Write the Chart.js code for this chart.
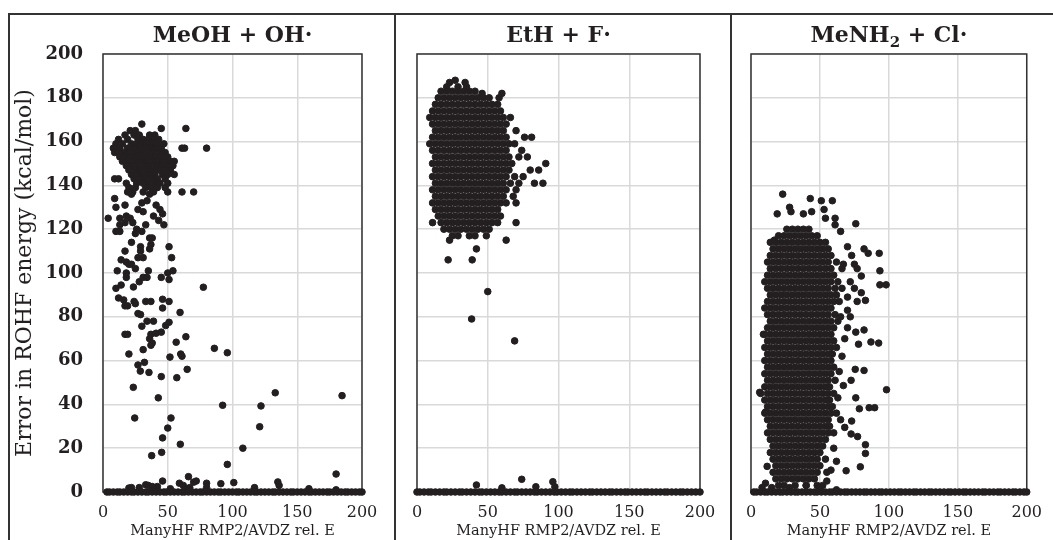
<!DOCTYPE html>
<html>
<head>
<meta charset="utf-8">
<script src="https://cdn.jsdelivr.net/npm/chart.js@4.4.1/dist/chart.umd.min.js"></script>
<style>
  body { margin: 0; background: #fff; }
  #wrap { position: relative; width: 1053px; height: 540px; overflow: hidden; }
  .frame { position: absolute; left: 8px; top: 13px; width: 1070px; height: 560px; border: 2px solid #333; box-sizing: border-box; }
  .sep { position: absolute; top: 13px; width: 2px; height: 527px; background: #333; }
  canvas { position: absolute; top: 15px; }
</style>
</head>
<body>
<div id="wrap">
  <div class="frame"></div>
  <div class="sep" style="left:394px"></div>
  <div class="sep" style="left:730px"></div>
  <canvas id="c1" width="383" height="525" style="left:10px"></canvas>
  <canvas id="c2" width="332" height="525" style="left:397px"></canvas>
  <canvas id="c3" width="320" height="525" style="left:733px"></canvas>
</div>
<script>
const xTickVals = [0, 50, 100, 150, 200];
const yTickVals = [0, 20, 40, 60, 80, 100, 120, 140, 160, 180, 200];

// ---- MeOH + OH· ----
// dense top cluster, one row per y: [y, [x...]]
const meohRows = [
  [168, [30]],
  [166, [45, 64]],
  [165, [21, 25]],
  [163, [17, 24, 28, 36, 40]],
  [161, [12, 19, 27, 31, 35, 39, 43]],
  [159, [10, 15, 22, 26, 30, 34, 38, 42, 47]],
  [157, [8, 13, 19, 24, 28, 33, 37, 41, 45, 61, 63, 80]],
  [155, [9, 11, 16, 21, 26, 30, 35, 39, 44, 48]],
  [153, [13, 18, 23, 28, 32, 37, 41, 46, 50]],
  [151, [15, 20, 25, 30, 34, 39, 43, 47, 52, 55]],
  [149, [18, 22, 27, 32, 36, 41, 45, 49, 54]],
  [147, [20, 25, 29, 34, 38, 43, 48, 52]],
  [145, [22, 27, 31, 36, 40, 46, 50, 55]],
  [143, [9, 12, 24, 29, 33, 38, 42, 48]],
  [141, [18, 26, 31, 35, 40, 44, 50]],
  [139, [20, 25, 33, 37, 42, 48]],
  [137, [19, 23, 31, 39, 50, 61, 70]],
  [136, [22, 36]]
];
const meohPts = [
  [9, 134], [10, 130], [17, 131], [13, 125], [13, 122], [18, 126], [21, 125], [4, 125],
  [10, 119], [13, 119], [17, 123], [23, 123], [26, 120], [25, 118], [30, 119], [31, 128],
  [30, 132], [34, 133], [39, 126], [41, 131], [44, 129], [46, 127], [43, 124], [47, 122],
  [33, 122], [27, 129], [36, 116], [38, 116], [37, 113], [36, 111], [29, 112], [29, 110],
  [22, 114], [17, 110], [14, 106], [18, 105], [20, 104], [22, 104], [27, 107], [31, 107],
  [51, 112], [53, 107], [11, 101], [25, 102], [35, 101], [54, 101], [50, 100],
  [10, 93], [77.5, 93.5], [86, 65.6], [96, 63.6], [133, 45.3], [184.6, 44], [92.4, 39.6],
  [122, 39.3], [121, 29.8], [108, 20], [96, 12.6], [180, 8.2], [42.7, 43], [24.5, 33.8],
  [52.5, 33.8], [50, 29.2], [46, 24.7], [59.7, 21.8], [45.3, 18.1], [37.6, 16.6], [23.4, 47.8],
  [45, 52.7], [57, 52.2], [65, 56], [35.5, 54.6], [28.8, 55.2], [32, 59.2], [27, 58],
  [51.7, 61.6], [60, 63], [61, 62], [56.5, 68.4], [64, 70.9], [20, 63], [31, 65], [17, 72],
  [19, 72], [37, 67], [38, 68], [37, 72], [41, 72.5], [45, 73], [36, 70], [48.4, 76],
  [51, 77.5], [30, 75.7], [34, 78], [39, 78], [59.5, 82], [27, 81.5], [29, 81], [17, 85],
  [19, 85], [24, 87], [25, 86], [33, 87], [37, 87], [46, 88], [46, 84], [51, 87],
  [16, 87.7], [12, 88.6], [14, 94.5], [18, 98], [18, 100], [23.5, 93.6], [28, 96], [31, 98],
  [34, 98], [45, 98], [51, 97],
  [59, 4], [62, 3], [66, 7], [70, 4.5], [72, 5], [80, 4], [80, 2], [91, 3.8], [101, 4.3],
  [117, 2], [135, 4.6], [136, 3], [159, 1.5], [46, 5], [42, 2.5], [33, 3.3], [35, 3],
  [20, 1.8], [22, 2], [65, 1.5], [67, 2], [28, 2], [38, 2.5], [52, 1.5], [180, 1]
];
const meohZeroX = [3, 5, 8, 11, 13, 16, 19, 22, 24, 27, 30, 33, 35, 38, 41, 44, 47, 49, 52, 55,
  58, 61, 63, 66, 69, 72, 75, 77, 80, 83, 86, 89, 91, 94, 97, 100, 103, 105, 108, 111, 114,
  117, 119, 122, 125, 128, 131, 133, 136, 139, 142, 145, 147, 150, 153, 156, 159, 161, 164,
  167, 170, 173, 175, 178, 181, 184, 187, 189, 192, 195, 198, 200];

// ---- EtH + F· ----
const ethRows = [
  [188, [27]],
  [187, [23, 34]],
  [185, [21, 29, 35]],
  [183, [17, 21, 25, 29, 33, 37, 41]],
  [182, [46, 60]],
  [180, [15, 19, 23, 27, 31, 35, 39, 43, 47, 51, 58]],
  [177, [13, 17, 21, 25, 29, 33, 37, 41, 45, 49, 53, 57]],
  [174, [11, 15, 19, 23, 27, 31, 35, 39, 43, 47, 51, 55, 59]],
  [171, [9, 13, 17, 21, 25, 29, 33, 37, 41, 45, 49, 53, 57, 61, 66]],
  [168, [11, 15, 19, 23, 27, 31, 35, 39, 43, 47, 51, 55, 59, 63]],
  [165, [13, 17, 21, 25, 29, 33, 37, 41, 45, 49, 53, 57, 61, 70]],
  [162, [11, 15, 19, 23, 27, 31, 35, 39, 43, 47, 51, 55, 59, 63, 76, 81]],
  [159, [9, 13, 17, 21, 25, 29, 33, 37, 41, 45, 49, 53, 57, 61, 65, 69]],
  [156, [11, 15, 19, 23, 27, 31, 35, 39, 43, 47, 51, 55, 59, 63, 74]],
  [153, [13, 17, 21, 25, 29, 33, 37, 41, 45, 49, 53, 57, 61, 65, 72, 78]],
  [150, [11, 15, 19, 23, 27, 31, 35, 39, 43, 47, 51, 55, 59, 63, 67, 91]],
  [147, [13, 17, 21, 25, 29, 33, 37, 41, 45, 49, 53, 57, 61, 65, 80, 86]],
  [144, [11, 15, 19, 23, 27, 31, 35, 39, 43, 47, 51, 55, 59, 63, 69, 75]],
  [141, [13, 17, 21, 25, 29, 33, 37, 41, 45, 49, 53, 57, 61, 66, 72, 83, 89]],
  [138, [11, 15, 19, 23, 27, 31, 35, 39, 43, 47, 51, 55, 59, 63, 70]],
  [135, [13, 17, 21, 25, 29, 33, 37, 41, 45, 49, 53, 57, 61, 68]],
  [132, [11, 15, 19, 23, 27, 31, 35, 39, 43, 47, 51, 55, 59, 63, 70]],
  [129, [13, 17, 21, 25, 29, 33, 37, 41, 45, 49, 53, 57]],
  [126, [15, 19, 23, 27, 31, 35, 39, 43, 47, 51, 55, 59]],
  [123, [11, 17, 21, 25, 29, 33, 37, 41, 45, 49, 53, 57, 70]],
  [120, [19, 23, 27, 31, 35, 39, 43, 47, 51]],
  [117, [25, 29, 37, 41, 49]],
  [115, [23, 63]],
  [111, [42]],
  [106, [22, 39]]
];
const ethPts = [
  [50, 91.5], [38.6, 79], [69, 69],
  [42, 3.2], [60, 1.9], [74, 5.8], [84, 2.4], [96, 4.7], [97.4, 2.4]
];
const ethZeroX = [0, 2, 5, 8, 10, 13, 16, 19, 21, 24, 27, 30, 32, 35, 38, 41, 44, 46, 49, 52,
  55, 58, 60, 63, 66, 69, 71, 74, 77, 80, 83, 85, 88, 91, 94, 97, 99, 102, 105, 108, 110,
  113, 116, 119, 122, 124, 127, 130, 133, 136, 138, 141, 144, 147, 149, 152, 155, 158, 161,
  163, 166, 169, 172, 175, 177, 180, 183, 186, 188, 191, 194, 197, 200];

// ---- MeNH2 + Cl· ----
const menhRows = [
  [120, [26, 30, 34, 38, 42]],
  [117, [20, 24, 28, 32, 36, 40, 44, 48]],
  [114, [14, 18, 22, 26, 30, 34, 38, 42, 46, 50, 54]],
  [111, [16, 20, 24, 28, 32, 36, 40, 44, 48, 52, 56]],
  [108, [14, 18, 22, 26, 30, 34, 38, 42, 46, 50, 54, 58]],
  [105, [12, 16, 20, 24, 28, 32, 36, 40, 44, 48, 52, 56, 62]],
  [102, [14, 18, 22, 26, 30, 34, 38, 42, 46, 50, 54, 58, 66]],
  [99, [12, 16, 20, 24, 28, 32, 36, 40, 44, 48, 52, 56, 60]],
  [96, [10, 14, 18, 22, 26, 30, 34, 38, 42, 46, 50, 54, 58, 63]],
  [93, [12, 16, 20, 24, 28, 32, 36, 40, 44, 48, 52, 56, 61, 66]],
  [90, [14, 18, 22, 26, 30, 34, 38, 42, 46, 50, 54, 58, 62]],
  [87, [12, 16, 20, 24, 28, 32, 36, 40, 44, 48, 52, 56, 60, 64]],
  [84, [10, 14, 18, 22, 26, 30, 34, 38, 42, 46, 50, 54, 58]],
  [81, [12, 16, 20, 24, 28, 32, 36, 40, 44, 48, 52, 56, 61]],
  [78, [14, 18, 22, 26, 30, 34, 38, 42, 46, 50, 54, 58, 63]],
  [75, [12, 16, 20, 24, 28, 32, 36, 40, 44, 48, 52, 56, 60]],
  [72, [10, 14, 18, 22, 26, 30, 34, 38, 42, 46, 50, 54, 58]],
  [69, [12, 16, 20, 24, 28, 32, 36, 40, 44, 48, 52, 56, 60]],
  [66, [10, 14, 18, 22, 26, 30, 34, 38, 42, 46, 50, 54, 58, 62]],
  [63, [12, 16, 20, 24, 28, 32, 36, 40, 44, 48, 52, 56, 59]],
  [60, [10, 14, 18, 22, 26, 30, 34, 38, 42, 46, 50, 54, 58]],
  [57, [12, 16, 20, 24, 28, 32, 36, 40, 44, 48, 52, 56, 60]],
  [54, [10, 14, 18, 22, 26, 30, 34, 38, 42, 46, 50, 54, 58]],
  [51, [12, 16, 20, 24, 28, 32, 36, 40, 44, 48, 52, 56, 61]],
  [48, [10, 14, 18, 22, 26, 30, 34, 38, 42, 46, 50, 54, 57]],
  [45, [7, 12, 16, 20, 24, 28, 32, 36, 40, 44, 48, 52, 56, 60]],
  [42, [10, 14, 18, 22, 26, 30, 34, 38, 42, 46, 50, 54, 57]],
  [39, [12, 16, 20, 24, 28, 32, 36, 40, 44, 48, 52, 56, 59]],
  [36, [10, 14, 18, 22, 26, 30, 34, 38, 42, 46, 50, 54, 58, 62]],
  [33, [12, 16, 20, 24, 28, 32, 36, 40, 44, 48, 52, 56]],
  [30, [14, 18, 22, 26, 30, 34, 38, 42, 46, 50, 54, 57]],
  [27, [12, 16, 20, 24, 28, 32, 36, 40, 44, 48, 52, 56, 60]],
  [24, [14, 18, 22, 26, 30, 34, 38, 42, 46, 50, 54]],
  [21, [16, 20, 24, 28, 32, 36, 40, 44, 48, 52]],
  [18, [14, 18, 22, 26, 30, 34, 38, 42, 46, 50]],
  [15, [16, 20, 24, 28, 32, 36, 40, 44, 48, 54]],
  [12, [18, 22, 26, 30, 34, 38, 42, 46, 50]],
  [9, [16, 20, 24, 28, 32, 36, 40, 44, 48, 55]],
  [6, [18, 22, 26, 30, 34, 38, 42, 46]],
  [3, [20, 24, 32, 40, 48, 52]]
];
const menhPts = [
  [23, 136], [43, 134], [51, 133], [59, 133], [28, 130], [29, 128], [19, 127], [38, 127],
  [44, 128], [53, 129], [54, 125], [61, 125], [76, 122.5], [61, 122], [65, 119], [17, 115],
  [82, 111], [85, 109], [93, 109], [73, 108], [75, 104], [77, 102], [93.5, 101], [80, 98.6],
  [72, 96], [75, 93], [80, 91], [70, 89], [93.5, 94.6], [98, 94.6], [77, 87], [83, 87.5],
  [70, 83], [72, 80], [70, 75], [76, 73], [82, 74], [9, 72], [92.6, 68], [78, 67.5],
  [87, 68.5], [82, 55.5], [98.3, 46.7], [75.6, 56], [72.6, 51], [67, 48.6], [76, 43],
  [78.6, 38], [85.7, 38.5], [89.7, 38.5], [73, 32.4], [68, 29.5], [72.6, 26.5], [77.3, 25.3],
  [83, 21.6], [83, 17.6], [79.3, 11.5], [69, 9.7], [62, 14], [11.7, 11.7], [10.5, 4],
  [6.3, 45.5], [10.5, 36.5], [66, 62], [68, 70], [65, 80], [64, 55], [63, 43], [65, 33],
  [60, 20], [58, 10], [55, 5], [67, 104], [70, 112],
  [8, 2], [15, 2], [28, 2], [40, 3], [50, 2], [62, 1]
];
const menhZeroX = [2, 4, 7, 10, 12, 15, 18, 21, 23, 26, 29, 32, 34, 37, 40, 43, 46, 48, 51, 54,
  57, 59, 62, 65, 68, 70, 73, 76, 79, 82, 84, 87, 90, 93, 95, 98, 101, 104, 107, 109, 112,
  115, 118, 120, 123, 126, 129, 131, 134, 137, 140, 143, 145, 148, 151, 154, 156, 159, 162,
  165, 168, 170, 173, 176, 179, 181, 184, 187, 190, 192, 195, 198, 200];

const SERIF = "'DejaVu Serif', serif";
const INK = '#231f20';

function toPoints(rows, pts, zeroX) {
  const out = [];
  rows.forEach(([y, xs]) => xs.forEach(x => out.push({ x, y })));
  pts.forEach(([x, y]) => out.push({ x, y }));
  zeroX.forEach(x => out.push({ x, y: 0 }));
  return out;
}

// plot box around the chart area, under the points
const plotFrame = {
  id: 'plotFrame',
  beforeDatasetsDraw(chart) {
    const { ctx, chartArea: a } = chart;
    ctx.save();
    ctx.strokeStyle = '#333';
    ctx.lineWidth = 1.5;
    ctx.strokeRect(a.left, a.top, a.right - a.left, a.bottom - a.top);
    ctx.restore();
  }
};

// panel title, with optional subscript parts
const panelTitle = {
  id: 'panelTitle',
  afterDraw(chart, args, opts) {
    const { ctx, chartArea: a } = chart;
    const main = 'bold 22px ' + SERIF;
    const sub = 'bold 15px ' + SERIF;
    ctx.save();
    ctx.fillStyle = INK;
    ctx.textBaseline = 'alphabetic';
    let total = 0;
    opts.parts.forEach(([t, isSub]) => {
      ctx.font = isSub ? sub : main;
      total += ctx.measureText(t).width;
    });
    let x = (a.left + a.right) / 2 - total / 2;
    opts.parts.forEach(([t, isSub]) => {
      ctx.font = isSub ? sub : main;
      ctx.fillText(t, x, isSub ? 32 : 27);
      x += ctx.measureText(t).width;
    });
    ctx.restore();
  }
};

function makePanel(id, parts, points, showY, padL, padR) {
  new Chart(document.getElementById(id), {
    type: 'scatter',
    data: {
      datasets: [{
        data: points,
        backgroundColor: INK,
        borderColor: INK,
        borderWidth: 1,
        pointRadius: 3.3,
        clip: false
      }]
    },
    plugins: [plotFrame, panelTitle],
    options: {
      responsive: false,
      animation: false,
      events: [],
      layout: { padding: { left: padL, right: padR, top: 39, bottom: 0 } },
      plugins: {
        legend: { display: false },
        tooltip: { enabled: false },
        panelTitle: { parts }
      },
      scales: {
        x: {
          type: 'linear',
          min: 0,
          max: 200,
          afterBuildTicks: s => { s.ticks = xTickVals.map(v => ({ value: v })); },
          afterFit: s => { s.height = 48; },
          ticks: { color: INK, padding: 11, font: { family: SERIF, size: 16 } },
          grid: { color: '#d9d9d9', lineWidth: 1.5, drawTicks: false },
          border: { display: false },
          title: {
            display: true,
            text: 'ManyHF RMP2/AVDZ rel. E',
            color: INK,
            font: { family: SERIF, size: 14.5 },
            padding: { top: 0, bottom: 0 }
          }
        },
        y: {
          type: 'linear',
          min: 0,
          max: 200,
          afterBuildTicks: s => { s.ticks = yTickVals.map(v => ({ value: v })); },
          afterFit: s => { s.width = showY ? 93 : 0; },
          ticks: {
            display: showY,
            color: INK,
            padding: 20,
            font: { family: SERIF, size: 18, weight: 'bold' }
          },
          grid: { color: '#d9d9d9', lineWidth: 1.5, drawTicks: false },
          border: { display: false },
          title: {
            display: showY,
            text: 'Error in ROHF energy (kcal/mol)',
            color: INK,
            font: { family: SERIF, size: 22 },
            padding: { top: 2, bottom: 0 }
          }
        }
      }
    }
  });
}

makePanel('c1', [['MeOH + OH·', false]], toPoints(meohRows, meohPts, meohZeroX), true, 0, 31);
makePanel('c2', [['EtH + F·', false]], toPoints(ethRows, ethPts, ethZeroX), false, 20, 29);
makePanel('c3', [['MeNH', false], ['2', true], [' + Cl·', false]], toPoints(menhRows, menhPts, menhZeroX), false, 18, 18);
</script>
</body>
</html>
